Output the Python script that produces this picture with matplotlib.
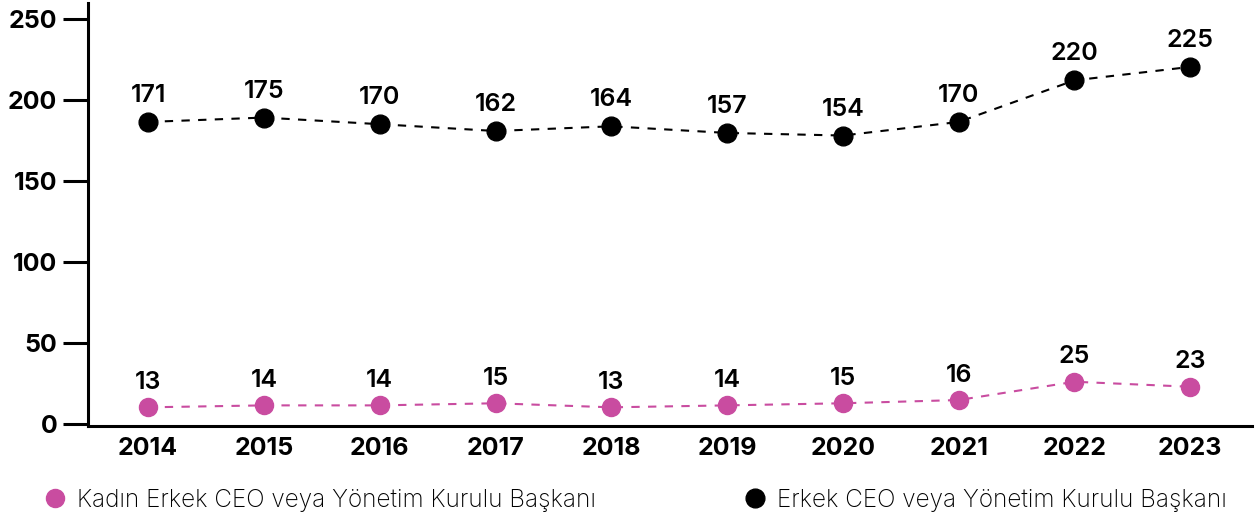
import matplotlib.pyplot as plt

years = [2014, 2015, 2016, 2017, 2018, 2019, 2020, 2021, 2022, 2023]

# marker heights as drawn in the chart
men_y = [186.6, 189.3, 185.2, 181.0, 183.9, 179.8, 178.2, 186.6, 212.3, 220.6]
women_y = [10.3, 11.5, 11.5, 12.8, 10.3, 11.5, 12.8, 14.8, 26.1, 23.0]

# numbers printed above the markers
men_labels = [171, 175, 170, 162, 164, 157, 154, 170, 220, 225]
women_labels = [13, 14, 14, 15, 13, 14, 15, 16, 25, 23]

women_name = "Kadın Erkek CEO veya Yönetim Kurulu Başkanı"
men_name = "Erkek CEO veya Yönetim Kurulu Başkanı"

PINK = "#C94CA0"
FONT = ["Inter", "DejaVu Sans"]

plt.rcParams["font.family"] = FONT

fig = plt.figure(figsize=(12.56, 5.19), dpi=100)
ax = fig.add_axes([0.070, 0.179, 0.927, 0.815])

ax.plot(years, women_y, color=PINK, linestyle=(0, (4, 4)), linewidth=1.5,
        marker="o", markersize=13, label=women_name)
ax.plot(years, men_y, color="black", linestyle=(0, (4, 4)), linewidth=1.5,
        marker="o", markersize=13.5, label=men_name)

for x, y, t in zip(years, men_y, men_labels):
    ax.annotate(str(t), (x, y), xytext=(0, 19), textcoords="offset points",
                ha="center", va="center", fontsize=18, fontweight="semibold")
for x, y, t in zip(years, women_y, women_labels):
    ax.annotate(str(t), (x, y), xytext=(0, 18), textcoords="offset points",
                ha="center", va="center", fontsize=18, fontweight="semibold")

ax.set_xlim(2013.48, 2023.535)
ax.set_ylim(-1.3, 260)
ax.set_xticks(years)
ax.set_yticks([0, 50, 100, 150, 200, 250])

for s in ["top", "right"]:
    ax.spines[s].set_visible(False)
for s in ["left", "bottom"]:
    ax.spines[s].set_linewidth(2.2)

ax.tick_params(axis="y", length=18, width=2.2, pad=4, labelsize=18)
ax.tick_params(axis="x", length=0, pad=8, labelsize=18)
for lab in ax.get_xticklabels() + ax.get_yticklabels():
    lab.set_fontweight("bold")

fig.legend(loc="lower left", bbox_to_anchor=(0.019, -0.028, 0.975, 0.08),
           mode="expand", ncol=2, frameon=False,
           prop={"family": FONT, "weight": "light", "size": 17.5},
           handlelength=0.8, handletextpad=0.5, markerscale=1.0)

# drop the dashed line from legend handles
leg = fig.legends[0]
for h in leg.legend_handles:
    h.set_linestyle("none")

fig.savefig("out.png", dpi=100)
